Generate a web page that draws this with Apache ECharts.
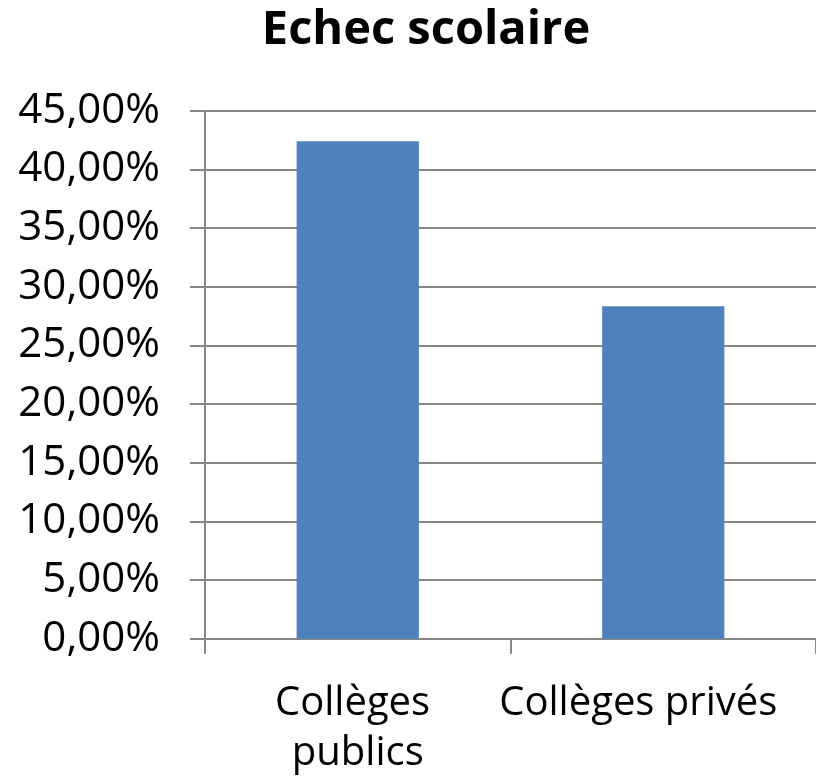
<!DOCTYPE html>
<html>
<head>
<meta charset="utf-8">
<title>Echec scolaire</title>
<script src="https://cdn.jsdelivr.net/npm/echarts@6/dist/echarts.min.js"></script>
<style>
  html, body { margin: 0; padding: 0; background: #fff; }
  #chart { width: 816px; height: 782px; }
</style>
</head>
<body>
<div id="chart"></div>
<script>
// données
const categories = ["Collèges publics", "Collèges privés"];
const echecValues = [0.424, 0.2834];
const yMin = 0;
const yMax = 0.45;
const yStep = 0.05;

const chart = echarts.init(document.getElementById("chart"));

// 0.45 -> "45,00%"
function pct(v) {
  return (v * 100).toFixed(2).replace(".", ",") + "%";
}

const axisGrey = "#878787";

// le 2e libellé tient sur une ligne (comme dans Excel)
const catData = categories.map((c, i) =>
  i === 1
    ? { value: c, textStyle: { width: 360, padding: [0, 50, 0, 0] } }
    : c
);

chart.setOption({
  animation: false,
  title: {
    text: "Echec scolaire",
    left: 421,
    textAlign: "center",
    top: 2,
    textStyle: {
      fontFamily: "Open Sans",
      fontWeight: "bold",
      fontSize: 47,
      color: "#000",
    },
  },
  grid: {
    left: 205,
    right: 0,
    top: 110.7,
    bottom: 143.3,
    outerBoundsMode: "none",
  },
  xAxis: {
    type: "category",
    data: catData,
    axisLine: { lineStyle: { color: axisGrey, width: 2 } },
    axisTick: { show: true, length: 15, lineStyle: { color: axisGrey, width: 2 } },
    axisLabel: {
      margin: 40,
      interval: 0,
      width: 290,
      overflow: "break",
      fontFamily: "Open Sans",
      fontSize: 40,
      lineHeight: 50,
      color: "#000",
    },
  },
  yAxis: {
    type: "value",
    min: yMin,
    max: yMax,
    interval: yStep,
    axisLine: { show: true, lineStyle: { color: axisGrey, width: 2 } },
    axisTick: { show: true, length: 15, lineStyle: { color: axisGrey, width: 2 } },
    splitLine: { show: true, lineStyle: { color: axisGrey, width: 2 } },
    axisLabel: {
      margin: 45,
      formatter: pct,
      fontFamily: "Open Sans",
      fontSize: 42,
      color: "#000",
    },
  },
  series: [
    {
      type: "bar",
      data: echecValues,
      barWidth: "40%",
      itemStyle: { color: "#4F81BD" },
    },
  ],
});
</script>
</body>
</html>
